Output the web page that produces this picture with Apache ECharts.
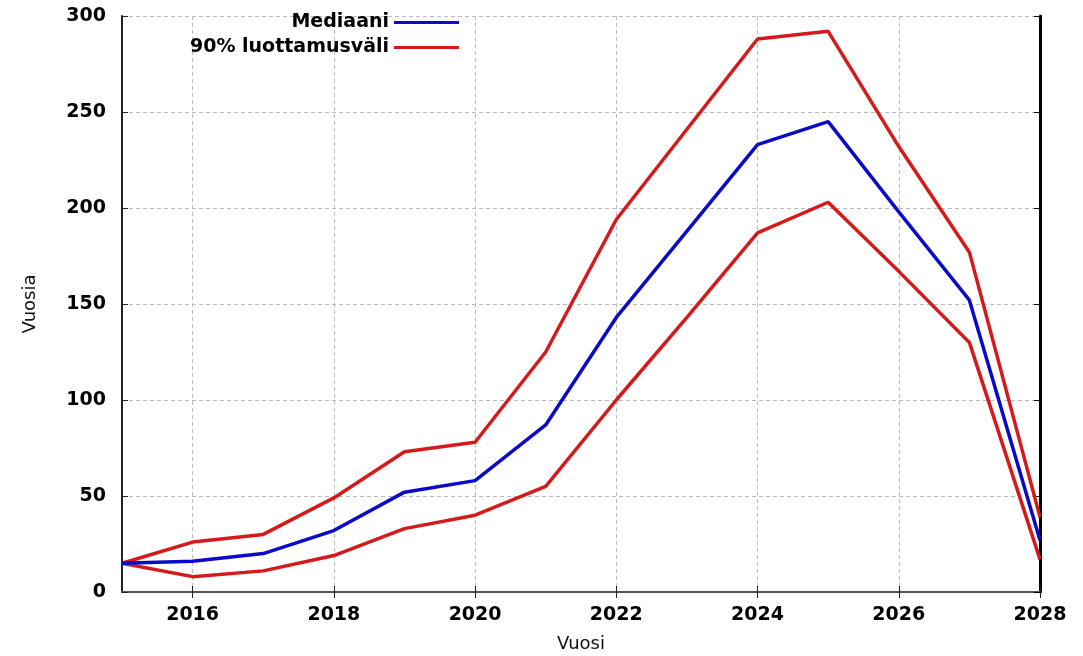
<!DOCTYPE html>
<html>
<head>
<meta charset="utf-8">
<script src="https://cdn.jsdelivr.net/npm/echarts@6/dist/echarts.min.js"></script>
<style>
  html, body { margin: 0; padding: 0; background: #fff; }
  #chart { width: 1083px; height: 656px; }
</style>
</head>
<body>
<div id="chart"></div>
<script>
// years on the x axis
var years = ['2015', '2016', '2017', '2018', '2019', '2020', '2021',
             '2022', '2023', '2024', '2025', '2026', '2027', '2028'];
// median and 90% interval bounds
var median = [15, 16, 20, 32, 52, 58, 87, 143, 188, 233, 245, 198, 152, 27];
var upper  = [15, 26, 30, 49, 73, 78, 125, 194, 241, 288, 292, 232, 177, 39];
var lower  = [15, 8, 11, 19, 33, 40, 55, 100, 143, 187, 203, 167, 130, 17];

var chart = echarts.init(document.getElementById('chart'));

function evenYear(index, value) {
    return parseInt(value, 10) % 2 === 0;
}

var tickFont = { fontFamily: 'DejaVu Sans', fontWeight: 'bold', fontSize: 19, color: '#000' };
var legendText = { fontFamily: 'DejaVu Sans', fontWeight: 'bold', fontSize: 19, color: '#000' };

option = {
    animation: false,
    backgroundColor: '#fff',
    grid: { left: 122, right: 43, top: 16, bottom: 64, outerBoundsMode: 'none', containLabel: false },
    legend: [
        {
            data: ['Mediaani'],
            right: 619, top: 8,
            align: 'right',
            icon: 'rect', itemWidth: 65, itemHeight: 3, itemGap: 4,
            textStyle: legendText
        },
        {
            data: ['90% luottamusväli'],
            right: 619, top: 33,
            align: 'right',
            icon: 'rect', itemWidth: 65, itemHeight: 3, itemGap: 4,
            textStyle: legendText
        }
    ],
    xAxis: [
        {
            type: 'category',
            data: years,
            boundaryGap: false,
            name: 'Vuosi',
            nameLocation: 'middle',
            nameGap: 43,
            nameTextStyle: { fontFamily: 'DejaVu Sans', fontSize: 18, color: '#111' },
            axisLine: { lineStyle: { color: '#222', width: 2 } },
            axisTick: { inside: true, length: 6, interval: evenYear, lineStyle: { color: '#222' } },
            axisLabel: Object.assign({ interval: evenYear, margin: 14 }, tickFont),
            splitLine: { show: true, interval: evenYear, lineStyle: { color: '#bbb', type: [4, 3], width: 1 } }
        },
        {
            type: 'category',
            data: years,
            boundaryGap: false,
            position: 'top',
            axisLine: { lineStyle: { color: '#555', width: 2 } },
            axisTick: { inside: true, length: 6, interval: evenYear, lineStyle: { color: '#222' } },
            axisLabel: { show: false },
            splitLine: { show: false }
        }
    ],
    yAxis: [
        {
            type: 'value',
            min: 0, max: 300, interval: 50,
            name: 'Vuosia',
            nameLocation: 'middle',
            nameGap: 83,
            nameTextStyle: { fontFamily: 'DejaVu Sans', fontSize: 18, color: '#111' },
            axisLine: { show: true, lineStyle: { color: '#222', width: 2 } },
            axisTick: { show: true, inside: true, length: 6, lineStyle: { color: '#222' } },
            axisLabel: Object.assign({ margin: 16 }, tickFont),
            splitLine: { show: true, lineStyle: { color: '#bbb', type: [4, 3], width: 1 } }
        },
        {
            type: 'value',
            min: 0, max: 300, interval: 50,
            position: 'right',
            axisLine: { show: true, lineStyle: { color: '#000', width: 3 } },
            axisTick: { show: true, inside: true, length: 6, lineStyle: { color: '#000' } },
            axisLabel: { show: false },
            splitLine: { show: false }
        }
    ],
    series: [
        {
            name: '90% luottamusväli',
            type: 'line',
            data: upper,
            symbol: 'none',
            color: '#d41a1a',
            lineStyle: { width: 3.5, color: '#d41a1a' }
        },
        {
            name: '90% luottamusväli',
            type: 'line',
            data: lower,
            symbol: 'none',
            color: '#d41a1a',
            lineStyle: { width: 3.5, color: '#d41a1a' }
        },
        {
            name: 'Mediaani',
            type: 'line',
            data: median,
            symbol: 'none',
            color: '#0a0ac8',
            lineStyle: { width: 3.5, color: '#0a0ac8' }
        }
    ]
};

chart.setOption(option);
</script>
</body>
</html>
